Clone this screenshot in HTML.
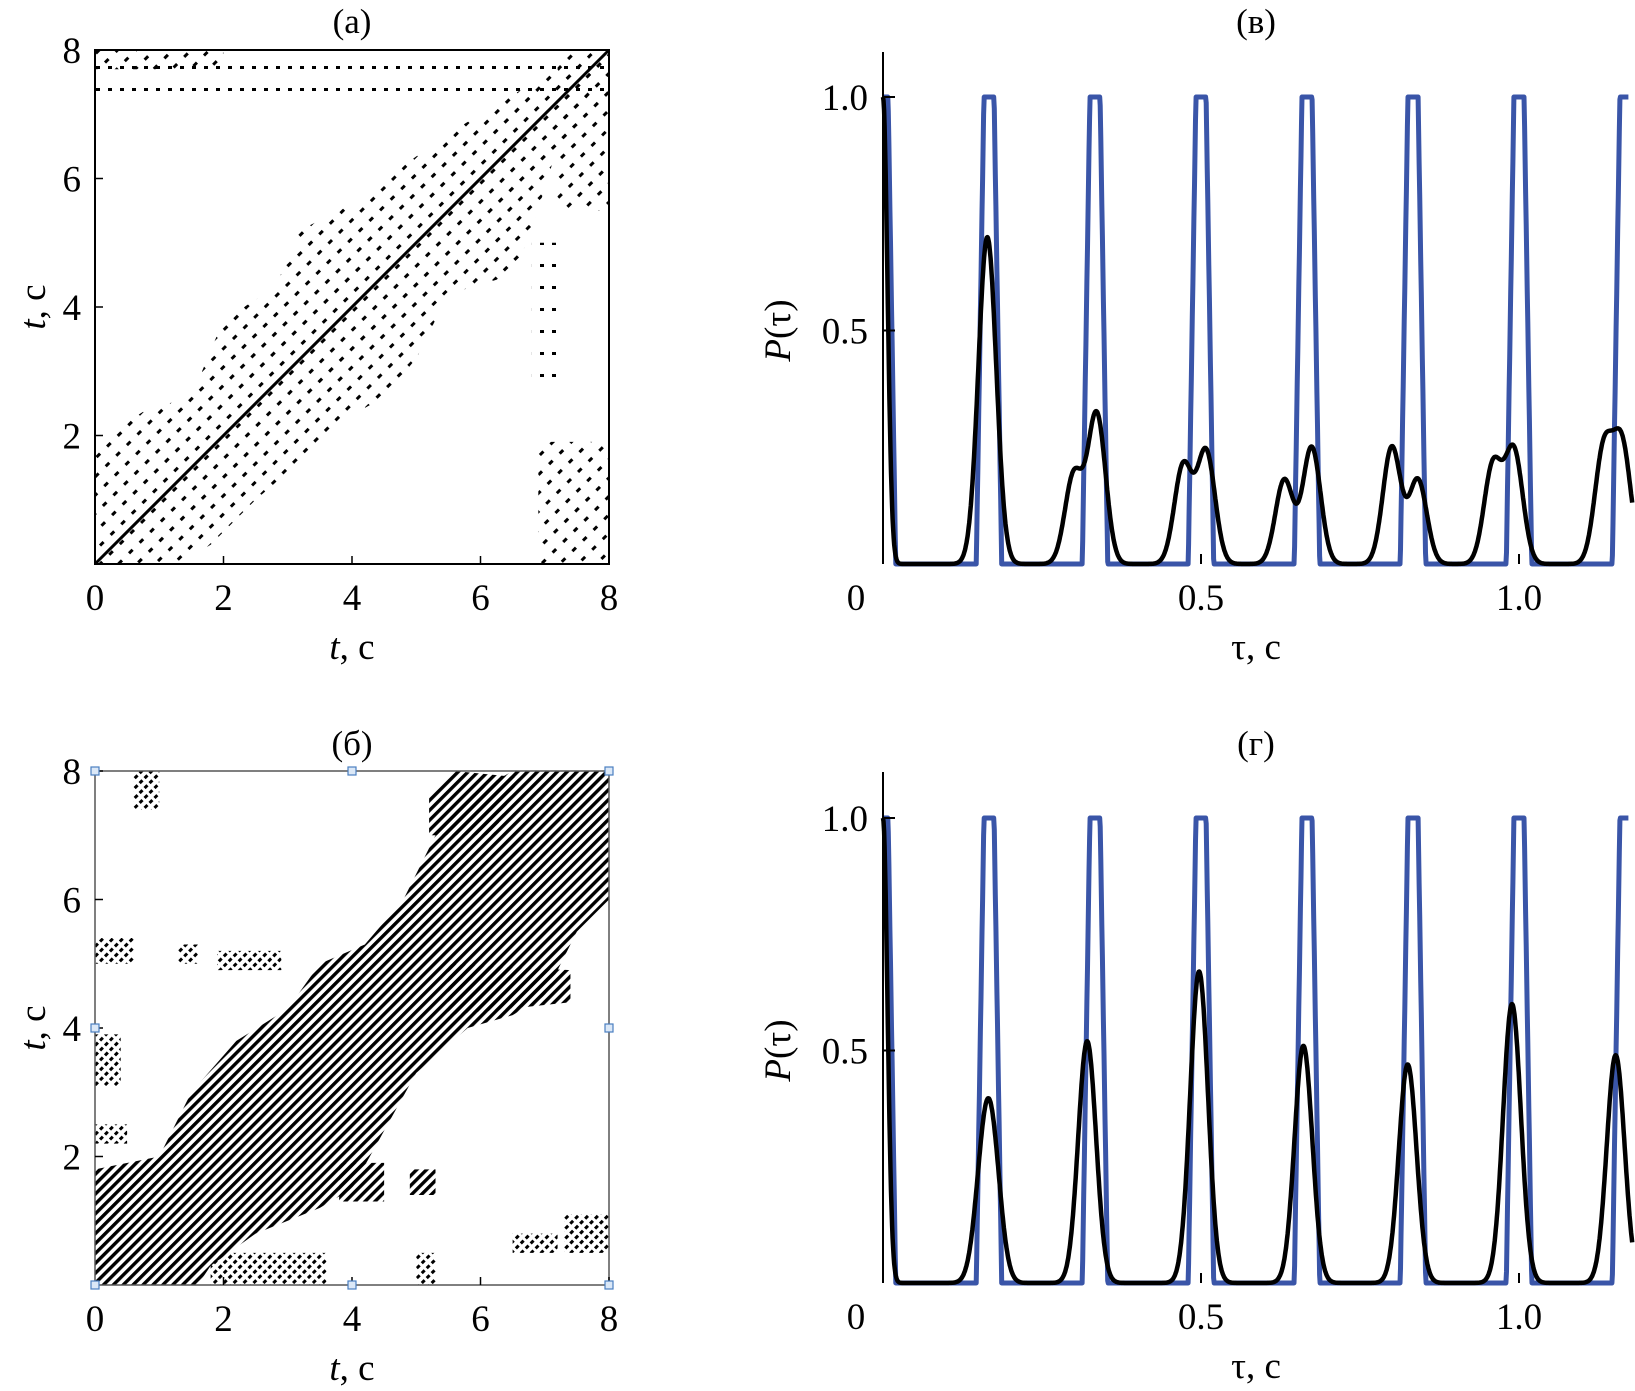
<!DOCTYPE html>
<html><head><meta charset="utf-8"><style>
body{margin:0;background:#fff;}
svg{display:block;font-family:"Liberation Serif",serif;}
</style></head><body>
<svg id="fig" width="1635" height="1391" viewBox="0 0 1635 1391">
<defs>
<pattern id="stripes" width="7" height="7" patternUnits="userSpaceOnUse" patternTransform="rotate(-45)">
<rect x="0" y="0" width="7" height="3.4" fill="#000"/>
</pattern>
<pattern id="dots" width="7" height="7" patternUnits="userSpaceOnUse" patternTransform="rotate(-45)">
<rect x="0" y="0" width="4" height="3" fill="#000"/>
</pattern>
<pattern id="sparse" width="15" height="13" patternUnits="userSpaceOnUse" patternTransform="rotate(-45)">
<rect x="0" y="0" width="5" height="3" fill="#000"/>
</pattern>
<pattern id="rows" width="12" height="22" patternUnits="userSpaceOnUse">
<rect x="0" y="0" width="4" height="3" fill="#000"/>
</pattern>
<clipPath id="clipA"><rect x="95" y="50" width="514" height="514"/></clipPath>
<clipPath id="clipB"><rect x="95" y="771" width="514" height="514"/></clipPath>
<clipPath id="clipR"><rect x="880" y="40" width="755" height="1300"/></clipPath>
</defs>
<g id="pa"></g>
<g id="pb"></g>
<g id="pc"></g>
<g id="pd"></g>
</svg>
<script>
// ---------- data ----------
const regionsA = [
 {kind:"sparse", pts:[[0,0],[0,1.9],[0.8,2.4],[1.5,2.6],[2,3.8],[2.8,4.3],[3.2,5.2],[4,5.6],[4.8,6.2],[5.5,6.7],[6,7],[7,7.6],[8,8],[7.5,6.9],[7.2,6.5],[6.8,5.2],[6.5,4.5],[5.5,4.2],[5,3.2],[4.5,2.6],[3.8,2.2],[3.2,1.6],[2.5,1],[1.8,0.3],[1.3,0]]},
 {kind:"rows", pts:[[0,7.1],[8,7.1],[8,7.8],[0,7.8]]},
 {kind:"sparse", pts:[[6.9,0],[8,0],[8,1.9],[6.9,1.9]]},
 {kind:"rows", pts:[[6.8,2.8],[7.2,2.8],[7.2,5],[6.8,5]]},
 {kind:"sparse", pts:[[0,7.7],[2,7.7],[2,8],[0,8]]},
 {kind:"sparse", pts:[[7.2,5.5],[8,5.5],[8,8],[7.2,8]]}
];
const diagA = [[0,0],[8,8]];
const regionsB = [
 {kind:"stripes", pts:[[0,0],[0,1.8],[1,2],[1.5,3],[2.2,3.8],[3,4.3],[3.5,5],[4.2,5.3],[4.8,6],[5.3,7],[5.8,7.6],[6.5,8],[8,8],[8,6],[7.5,5.5],[7,4.5],[6.5,4.2],[5.8,4],[5,3.3],[4.5,2.4],[4,1.5],[3.5,1.2],[2.5,0.8],[1.8,0.3],[1.6,0]]},
 {kind:"stripes", pts:[[5.2,7],[6.2,7],[6.6,7.9],[5.6,8],[5.2,7.6]]},
 {kind:"dots", pts:[[1.8,0],[3.6,0],[3.6,0.5],[1.8,0.5]]},
 {kind:"dots", pts:[[0.6,7.4],[1.0,7.4],[1.0,8],[0.6,8]]},
 {kind:"dots", pts:[[0,3.1],[0.4,3.1],[0.4,3.9],[0,3.9]]},
 {kind:"dots", pts:[[0,5.0],[0.6,5.0],[0.6,5.4],[0,5.4]]},
 {kind:"dots", pts:[[1.3,5.0],[1.6,5.0],[1.6,5.3],[1.3,5.3]]},
 {kind:"dots", pts:[[0,2.2],[0.5,2.2],[0.5,2.5],[0,2.5]]},
 {kind:"dots", pts:[[7.3,0.5],[8,0.5],[8,1.1],[7.3,1.1]]},
 {kind:"dots", pts:[[6.5,0.5],[7.2,0.5],[7.2,0.8],[6.5,0.8]]},
 {kind:"dots", pts:[[5.0,0],[5.3,0],[5.3,0.5],[5.0,0.5]]},
 {kind:"stripes", pts:[[3.8,1.3],[4.5,1.3],[4.5,1.9],[3.8,1.9]]},
 {kind:"stripes", pts:[[4.9,1.4],[5.3,1.4],[5.3,1.8],[4.9,1.8]]},
 {kind:"stripes", pts:[[5.5,4.2],[7.4,4.4],[7.4,4.9],[5.5,5.0]]},
 {kind:"dots", pts:[[1.9,4.9],[2.9,4.9],[2.9,5.2],[1.9,5.2]]}
];
const tTicks = [0,2,4,6,8];
const pulseCenters = [0,1/6,2/6,3/6,4/6,5/6,1,7/6];
const peaksVc = [0,0.164,0.30,0.336,0.472,0.508,0.631,0.674,0.80,0.841,0.959,0.992,1.133,1.162];
const peaksVh = [1.0,0.70,0.19,0.32,0.21,0.24,0.18,0.25,0.25,0.18,0.21,0.24,0.24,0.25];
const peaksGc = [0,0.158,0.172,0.321,0.497,0.661,0.825,0.989,1.152];
const peaksGh = [1.0,0.21,0.24,0.52,0.67,0.51,0.47,0.60,0.49];
const tauTicks = [0,0.5,1.0];
const tauTickLabels = ["0","0.5","1.0"];
const pTicks = [0.5,1.0];
const pTickLabels = ["0.5","1.0"];
// ---------- drawing ----------
const NS="http://www.w3.org/2000/svg";
function mk(tag,attrs,parent,text){const e=document.createElementNS(NS,tag);for(const k in attrs)e.setAttribute(k,attrs[k]);if(text!==undefined)e.textContent=text;parent.appendChild(e);return e;}

function recPlot(g,regions,y0,clip,title,box,titleY){
  const X=t=>95+t*64.25, Y=t=>y0-t*64.25;
  const cg=mk("g",{"clip-path":"url(#"+clip+")"},g);
  regions.forEach(r=>{
    const p=mk("polygon",{points:r.pts.map(q=>X(q[0])+","+Y(q[1])).join(" "),fill:"url(#"+r.kind+")"},cg);
    
    
  });
  const b=mk("rect",{x:95,y:Y(8),width:514,height:514,fill:"none",stroke:box.c,"stroke-width":box.w},g);
  
  
  tTicks.forEach(t=>{
    const a=mk("text",{x:X(t),y:y0+46,"font-size":37,"text-anchor":"middle"},g,String(t));
    
    
    if(t>0){
      const l=mk("text",{x:X(0)-14,y:Y(t)+13,"font-size":37,"text-anchor":"end"},g,String(t));
      
      
      mk("line",{x1:X(0),x2:X(0)+8,y1:Y(t),y2:Y(t),stroke:"#000","stroke-width":1.5},g);
      mk("line",{x1:X(t),x2:X(t),y1:y0,y2:y0-8,stroke:"#000","stroke-width":1.5},g);
    }
  });
  const tt=mk("text",{x:352,y:titleY,"font-size":35,"text-anchor":"middle"},g,title);
  
  
  const xl=mk("text",{x:352,y:y0+95,"font-size":37,"text-anchor":"middle"},g);
  mk("tspan",{"font-style":"italic"},xl,"t");mk("tspan",{},xl,", c");
  
  
  const yl=mk("text",{transform:"translate(45,"+(y0-257)+") rotate(-90)","font-size":37,"text-anchor":"middle"},g);
  mk("tspan",{"font-style":"italic"},yl,"t");mk("tspan",{},yl,", c");
  
  
  return {X,Y,g};
}
const A=recPlot(document.getElementById("pa"),regionsA,564,"clipA","(a)",{c:"#000",w:2},33);
const dl=mk("line",{x1:A.X(diagA[0][0]),y1:A.Y(diagA[0][1]),x2:A.X(diagA[1][0]),y2:A.Y(diagA[1][1]),stroke:"#000","stroke-width":3},A.g);


const B=recPlot(document.getElementById("pb"),regionsB,1285,"clipB","(б)",{c:"#555",w:1.5},755);
[[0,0],[4,0],[8,0],[0,4],[8,4],[0,8],[4,8],[8,8]].forEach(q=>{
  const h=mk("rect",{x:B.X(q[0])-4,y:B.Y(q[1])-4,width:8,height:8,fill:"#dbe8f7",stroke:"#4a7fc0","stroke-width":1.2},B.g);
  
  
});

function probPlot(g,y0,y1,top,cs,hs,title,titleY){
  const X=t=>883+t*636, Y=p=>y0-p*(y0-y1);
  const tauMax=1.172;
  const blue=t=>{let v=0;pulseCenters.forEach(c=>{const d=Math.abs(t-c);v=Math.max(v,Math.min(1,Math.max(0,(0.02-d)/0.012)));});return v;};
  const black=t=>{let v=0;cs.forEach((c,i)=>{const s=c===0?0.007:0.014;v+=hs[i]*Math.exp(-((t-c)*(t-c))/(2*s*s));});return Math.min(v,1);};
  const bp=[],kp=[];
  for(let i=0;i<=1400;i++){const t=tauMax*i/1400;bp.push(X(t).toFixed(1)+","+Y(blue(t)).toFixed(1));}
  for(let i=0;i<=1400;i++){const t=1.178*i/1400;kp.push(X(t).toFixed(1)+","+Y(black(t)).toFixed(1));}
  const cg=mk("g",{"clip-path":"url(#clipR)"},g);
  const bl=mk("polyline",{points:bp.join(" "),fill:"none",stroke:"#3a55a8","stroke-width":5,"stroke-linejoin":"round"},cg);
  
  
  const kl=mk("polyline",{points:kp.join(" "),fill:"none",stroke:"#000","stroke-width":4.5,"stroke-linejoin":"round"},cg);
  
  
  const ax=mk("line",{x1:883,x2:883,y1:top,y2:y0,stroke:"#000","stroke-width":2},g);
  
  
  pTicks.forEach((p,i)=>{
    mk("line",{x1:883,x2:895,y1:Y(p),y2:Y(p),stroke:"#000","stroke-width":2},g);
    const l=mk("text",{x:868,y:Y(p)+13,"font-size":37,"text-anchor":"end"},g,pTickLabels[i]);
    
    
  });
  tauTicks.forEach((t,i)=>{
    if(t>0) mk("line",{x1:X(t),x2:X(t),y1:y0,y2:y0-10,stroke:"#000","stroke-width":2},g);
    const l=mk("text",{x:t===0?X(t)-27:X(t),y:y0+46,"font-size":37,"text-anchor":"middle"},g,tauTickLabels[i]);
    
    
  });
  const tt=mk("text",{x:1256,y:titleY,"font-size":35,"text-anchor":"middle"},g,title);
  
  
  const xl=mk("text",{x:1256,y:y0+95,"font-size":37,"text-anchor":"middle"},g,"τ, c");
  
  
  const yl=mk("text",{transform:"translate(790,"+Y(0.5)+") rotate(-90)","font-size":37,"text-anchor":"middle"},g);
  mk("tspan",{"font-style":"italic"},yl,"P");mk("tspan",{},yl,"(τ)");
  
  
}
probPlot(document.getElementById("pc"),564,97,52,peaksVc,peaksVh,"(в)",33);
probPlot(document.getElementById("pd"),1283,818,772,peaksGc,peaksGh,"(г)",755);
</script>
</body></html>
